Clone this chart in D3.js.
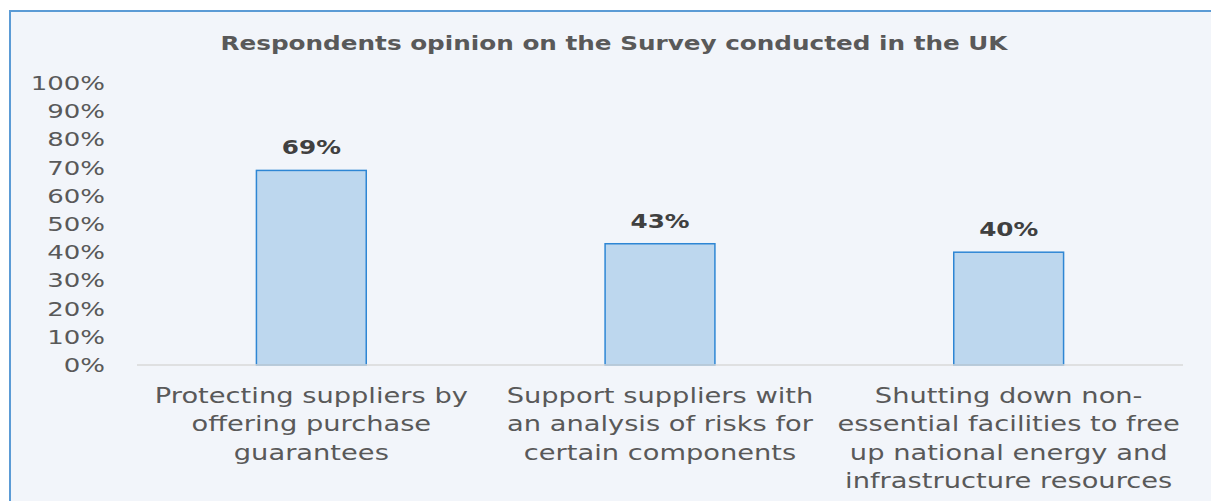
<!DOCTYPE html>
<html>
<head>
<meta charset="utf-8">
<script src="https://cdn.jsdelivr.net/npm/d3@7"></script>
<style>
  body { margin: 0; background: #fff; }
  svg { display: block; }
  text { font-family: "DejaVu Sans", sans-serif; }
</style>
</head>
<body>
<svg id="chart"></svg>
<script>
const width = 1211, height = 501;

// data
const categories = [
    ["Protecting suppliers by", "offering purchase", "guarantees"],
    ["Support suppliers with", "an analysis of risks for", "certain components"],
    ["Shutting down non-", "essential facilities to free", "up national energy and", "infrastructure resources"]
];
const values = [69, 43, 40];
const yTicks = [0, 10, 20, 30, 40, 50, 60, 70, 80, 90, 100];
const title = "Respondents opinion on the Survey conducted in the UK";

const margin = { top: 83, right: 28, bottom: 136, left: 137 };
// the original text looks horizontally stretched
const stretch = 1.3;

const svg = d3.select("#chart")
    .attr("width", width)
    .attr("height", height);

// chart area background + border
svg.append("rect")
    .attr("x", 10)
    .attr("y", 11)
    .attr("width", width + 10)
    .attr("height", height + 10)
    .attr("fill", "#F2F5FA")
    .attr("stroke", "#5B9BD5")
    .attr("stroke-width", 2);

const xScale = d3.scaleBand()
    .domain(d3.range(values.length))
    .range([margin.left, width - margin.right])
    .paddingInner(0.685)
    .paddingOuter(0.3425);

const yScale = d3.scaleLinear()
    .domain([0, 100])
    .range([height - margin.bottom, margin.top]);

svg.append("text")
    .attr("transform", `translate(614,50) scale(${stretch},1)`)
    .attr("text-anchor", "middle")
    .style("font-size", "19px")
    .style("font-weight", "bold")
    .attr("fill", "#595959")
    .text(title);

// y axis
const yAxis = svg.append("g")
    .attr("transform", `translate(${margin.left},0)`)
    .call(d3.axisLeft(yScale).tickValues(yTicks).tickSize(0).tickFormat(d => d + "%"));
yAxis.select(".domain").remove();
yAxis.selectAll("text")
    .attr("x", -32 / stretch)
    .attr("transform", `scale(${stretch},1)`)
    .style("font-size", "20px")
    .style("font-family", "'DejaVu Sans', sans-serif")
    .attr("fill", "#595959");

// bars
svg.selectAll("rect.bar")
    .data(values)
    .enter()
    .append("rect")
    .attr("class", "bar")
    .attr("x", (d, i) => xScale(i))
    .attr("y", d => yScale(d))
    .attr("width", xScale.bandwidth())
    .attr("height", d => yScale(0) - yScale(d))
    .attr("fill", "#BDD7EE")
    .attr("stroke", "#2E86D4")
    .attr("stroke-width", 1.5);

// baseline
svg.append("line")
    .attr("x1", margin.left)
    .attr("x2", width - margin.right)
    .attr("y1", yScale(0))
    .attr("y2", yScale(0))
    .attr("stroke", "#D9D9D9")
    .attr("stroke-width", 1.5);

// value labels
svg.selectAll("text.value")
    .data(values)
    .enter()
    .append("text")
    .attr("class", "value")
    .attr("transform", (d, i) => `translate(${xScale(i) + xScale.bandwidth() / 2},${yScale(d) - 16}) scale(${stretch},1)`)
    .attr("text-anchor", "middle")
    .style("font-size", "19px")
    .style("font-weight", "bold")
    .attr("fill", "#404040")
    .text(d => d + "%");

// category labels
const catGroups = svg.selectAll("text.cat")
    .data(categories)
    .enter()
    .append("text")
    .attr("class", "cat")
    .attr("transform", (d, i) => `translate(${xScale(i) + xScale.bandwidth() / 2},${yScale(0) + 38}) scale(${stretch},1)`)
    .attr("text-anchor", "middle")
    .style("font-size", "21px")
    .attr("fill", "#595959");

catGroups.selectAll("tspan")
    .data(d => d)
    .enter()
    .append("tspan")
    .attr("x", 0)
    .attr("dy", (d, i) => i === 0 ? 0 : 28.5)
    .text(d => d);
</script>
</body>
</html>
